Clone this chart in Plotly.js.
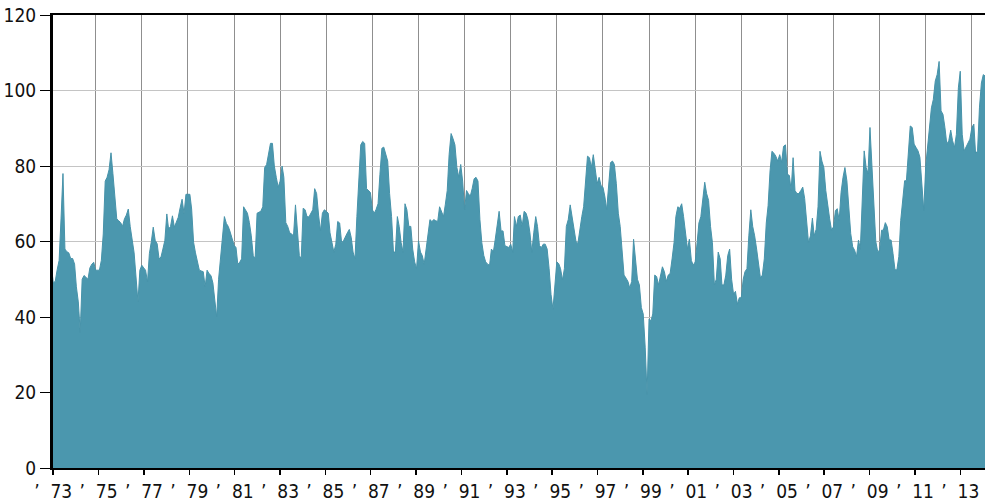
<!DOCTYPE html>
<html>
<head>
<meta charset="utf-8">
<script src="https://cdn.plot.ly/plotly-3.0.1.min.js"></script>
<style>
  html, body { margin: 0; padding: 0; background: #ffffff; }
  #chart { width: 985px; height: 503px; }
</style>
</head>
<body>
<div id="chart"></div>
<script>
// Monthly values, starting January 1973
const startYear = 1973;
const vals1970s = [
  52,53,49,49.5,52.5,55,66,78,58,57.3,57,55.5,
  55.5,54,48,44,36,50,51,50.5,50,53,54,54.5,
  52.4,52.4,52.4,55,62,76,77,79,83.5,78,71,66,
  65.5,65,64,66,67,68.6,64,60,57,50.6,44,52.4,
  53.7,53,52.4,49.3,56.8,60,63.8,60.3,59.4,55.4,55.9,58,
  60.3,67.3,63.3,64,66.8,63.8,65,66.4,69,71.2,67.3,72.5,
  72.5,72.5,68.6,59.8,57,55,52.4,52.2,52,48,52.4,51.5
];
const vals1980s = [
  51,49,44,40,50,56,62,66.6,64.8,64,62.5,60.5,
  59,58.4,54,54.5,55.4,69.2,68.4,67.5,65,61.5,56.3,55.4,
  67.5,67.8,68,69.2,79.6,80.4,83,86,86,80,77,74.4,
  76,80,77,65,64,62.3,62,61.5,69.7,62.3,56.3,55.4,
  68.8,68.4,66.6,66.5,67.5,68.4,74,72.7,67,62.8,67.5,68.4,
  68,67.5,62.3,60,57.2,59.3,65.3,64.9,59.7,60.2,61.5,62.3,
  63.2,61,57.2,55.4,66.6,78,85.6,86.5,86,74,73.5,73,
  68.4,67.5,68.5,70,77.8,84.7,85,83,81.3,72.7,66.6,57.2,
  57.2,66.6,64,59.7,57.2,70,68.4,64,64,58,54.6,52.8,
  60.2,57.2,56.3,54,58,63.2,65.8,65.3,65.8,65.5,65.3,69.2
];
const vals1990s = [
  68,66.6,69.7,73.5,83,88.6,87.3,85.6,79.6,77,80.4,76,
  68.4,73.5,72.7,72,74,76.6,77,76,65.8,59.7,56.3,54.6,
  54,53.7,58,57.2,60.6,65,68,62.8,62.8,58.9,58.6,58.4,
  59.3,57.2,66.6,64,66.6,67,64,68,67.5,65.8,62.3,57.2,
  62.3,66.6,64,58.9,58.4,59.3,59.3,58,52.8,46,42,49.4,
  54.6,54.1,52.8,49.8,52.8,64,65.8,69.7,66.5,63,60,59.5,
  63.6,66.6,69.2,76,82.6,82.2,79.6,83,78.5,75.3,77,74.8,
  74.4,71.8,68.4,76.1,80.9,81.3,80.4,75.3,67.5,64,58,51.1,
  50.3,49.4,47.7,49.4,60.6,55,50,48.5,42.5,40.8,32,19.5,
  39.5,39,40.8,51.1,50.7,48.5,51.1,53.3,52,49.4,51.1,51.5
];
const vals2000s = [
  55.4,59.7,66.6,69.2,68.8,70,66.6,62.3,58,60.6,55,53.7,
  54.6,59.7,64.9,66.6,70.9,75.7,72.7,70.9,64,59.7,48.5,50,
  57.2,55.4,48.5,48.5,51.1,56.3,58,50,46,46.8,43.4,45.1,
  45.1,50,52,52.8,61.5,68.4,64,61.5,58,53.7,50.3,51.1,
  55.4,64.9,69.5,78.7,83.9,83.4,82.6,81.3,83,81,85.2,85.6,
  77.8,77.5,73.5,82.2,73.5,72.7,72.7,73.5,74.4,71.4,65,59.7,
  61.5,66.2,61.5,63.2,69.2,83.9,81.3,79.6,73.5,69.2,66,63,
  63.9,68.2,68.7,65.6,73,77,79.6,76.1,67.4,62.1,58.6,57.7,
  56,60.4,58,69.1,84,79.6,78,90.2,79,67.4,60,57.3,
  57.7,63,63,65,63.9,60.4,60.4,56.8,52.5,52.5,56,65.6
];
const vals2010s = [
  71.8,76.1,76.1,84,90.6,90.2,85.8,84.9,84,82.3,73.5,68.2,
  80,86,91.1,95.4,97.6,102.5,104.2,107.7,94.6,93.7,90.2,85.8,
  86.7,89.5,86.7,84.9,88.4,100.7,105.1,88.4,84,84.9,85.8,87.1,
  90.2,91.1,83.2,84,95.4,102,104.2,103.8
];
const tickYears = [1973,1975,1977,1979,1981,1983,1985,1987,1989,1991,1993,1995,1997,1999,2001,2003,2005,2007,2009,2011,2013];
const tickLabels = ["73","75","77","79","81","83","85","87","89","91","93","95","97","99","01","03","05","07","09","11","13"];
const yTicks = [0,20,40,60,80,100,120];

const values = [].concat(vals1970s, vals1980s, vals1990s, vals2000s, vals2010s);
const dates = values.map((v, i) => {
  const y = startYear + Math.floor(i / 12);
  const m = (i % 12) + 1;
  return y + '-' + (m < 10 ? '0' + m : m) + '-01';
});

const fontFam = "'Liberation Sans Narrow', 'DejaVu Sans Condensed', 'Liberation Sans', sans-serif";

const trace = {
  type: 'scatter',
  mode: 'lines',
  x: dates,
  y: values,
  fill: 'tozeroy',
  fillcolor: '#4b97ae',
  line: { color: '#4793aa', width: 1 },
  hoverinfo: 'skip',
  showlegend: false
};

// invisible helper trace so the year-label axis is drawn
const labelAxisTrace = {
  type: 'scatter',
  mode: 'markers',
  x: [tickYears[0]],
  y: [0],
  xaxis: 'x2',
  yaxis: 'y',
  marker: { opacity: 0, size: 1 },
  hoverinfo: 'skip',
  showlegend: false
};

const layout = {
  width: 985,
  height: 503,
  margin: { l: 53, r: 0, t: 15, b: 35 },
  paper_bgcolor: '#ffffff',
  plot_bgcolor: '#ffffff',
  showlegend: false,
  font: { family: fontFam, color: '#111', size: 19 },
  xaxis: {
    type: 'date',
    range: ['1973-02-24', '2013-07-28'],
    tick0: '1975-01-01',
    dtick: 'M24',
    ticks: '',
    showticklabels: false,
    showgrid: true,
    gridcolor: '#8f8f8f',
    gridwidth: 1,
    showline: true,
    linecolor: '#000',
    linewidth: 2,
    mirror: true,
    zeroline: false
  },
  xaxis2: {
    type: 'linear',
    overlaying: 'x',
    anchor: 'y',
    side: 'bottom',
    range: [1972.99, 2014.09],
    tickmode: 'array',
    tickvals: tickYears,
    ticktext: tickLabels.map(t => '\u2019\u00a0\u00a0' + t),
    tickangle: 0,
    ticks: 'outside',
    ticklen: 6,
    tickwidth: 1.5,
    tickcolor: '#000',
    showgrid: false,
    showline: false,
    zeroline: false,
    automargin: false,
    tickfont: { family: fontFam, size: 19, color: '#111' }
  },
  yaxis: {
    range: [0, 120],
    tickmode: 'array',
    tickvals: yTicks,
    ticks: 'outside',
    ticklen: 10,
    tickwidth: 1,
    tickcolor: '#000',
    showgrid: true,
    gridcolor: '#c4c4c4',
    gridwidth: 1,
    showline: true,
    linecolor: '#000',
    linewidth: 3,
    zeroline: false,
    automargin: false,
    tickfont: { family: fontFam, size: 19, color: '#111' }
  }
};

Plotly.newPlot('chart', [trace, labelAxisTrace], layout, { displayModeBar: false, staticPlot: true });
</script>
</body>
</html>
